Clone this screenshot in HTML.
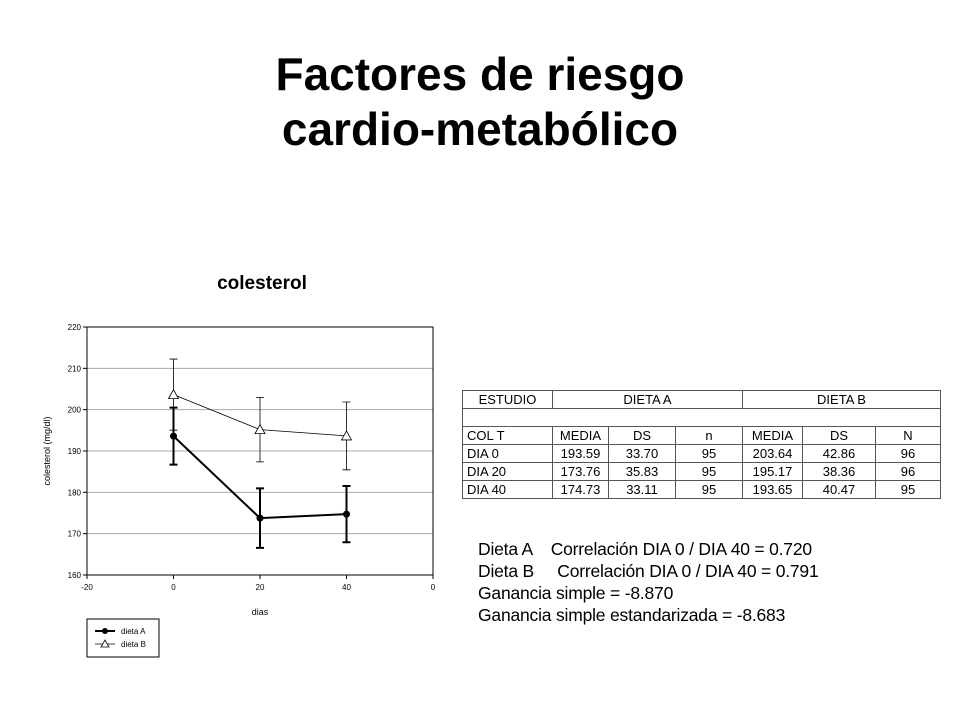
<!DOCTYPE html>
<html><head><meta charset="utf-8"><style>
body{margin:0;width:960px;height:720px;background:#fff;font-family:"Liberation Sans",Arial,sans-serif;position:relative;overflow:hidden}
.t{position:absolute;left:0;width:960px;text-align:center;font-weight:bold;font-size:46px;color:#000;line-height:52px}
table{position:absolute;left:462px;top:390px;border-collapse:collapse;font-size:13px;font-family:"Liberation Sans",sans-serif}
td{border:1px solid #555;height:17px;padding:0 4px;text-align:center;white-space:nowrap;line-height:17px}
td.l{text-align:left}
.txt{position:absolute;left:478px;top:538px;font-size:17.5px;line-height:22px;letter-spacing:-0.2px;white-space:pre}
</style></head><body>
<div class="t" style="top:48px">Factores de riesgo</div>
<div class="t" style="top:103px">cardio-metabólico</div>
<svg width="960" height="720" style="position:absolute;left:0;top:0" id="chart">
<text x="262" y="289" font-size="19" font-weight="bold" text-anchor="middle" font-family="Liberation Sans">colesterol</text>
</svg>
<table>
<colgroup><col style="width:90px"><col style="width:56px"><col style="width:67px"><col style="width:67px"><col style="width:60px"><col style="width:73px"><col style="width:65px"></colgroup>
<tr><td class="l" style="text-align:center">ESTUDIO</td><td colspan="3">DIETA A</td><td colspan="3">DIETA B</td></tr>
<tr><td colspan="7"></td></tr>
<tr><td class="l">COL T</td><td>MEDIA</td><td>DS</td><td>n</td><td>MEDIA</td><td>DS</td><td>N</td></tr>
<tr><td class="l">DIA 0</td><td>193.59</td><td>33.70</td><td>95</td><td>203.64</td><td>42.86</td><td>96</td></tr>
<tr><td class="l">DIA 20</td><td>173.76</td><td>35.83</td><td>95</td><td>195.17</td><td>38.36</td><td>96</td></tr>
<tr><td class="l">DIA 40</td><td>174.73</td><td>33.11</td><td>95</td><td>193.65</td><td>40.47</td><td>95</td></tr>
</table>
<div class="txt">Dieta A    Correlación DIA 0 / DIA 40 = 0.720
Dieta B     Correlación DIA 0 / DIA 40 = 0.791
Ganancia simple = -8.870
Ganancia simple estandarizada = -8.683</div>
<script>
const days=[0,20,40];
const meanA=[193.59,173.76,174.73];
const meanB=[203.64,195.17,193.65];
const errA=[6.9,7.2,6.8];
const errB=[8.6,7.8,8.2];
const yTicks=[160,170,180,190,200,210,220];
const xTicks=[-20,0,20,40,60];
const xTickLabels=["-20","0","20","40","0"];
const NS="http://www.w3.org/2000/svg";
const svg=document.getElementById('chart');
const X0=87,X1=433,Y0=575,Y1=327;
const sx=v=>X0+(v+20)/80*(X1-X0);
const sy=v=>Y0-(v-160)/60*(Y0-Y1);
function el(t,a,p){const e=document.createElementNS(NS,t);for(const k in a)e.setAttribute(k,a[k]);(p||svg).appendChild(e);return e;}
yTicks.forEach(v=>{
 if(v>160){const g=el('line',{x1:X0,x2:X1,y1:sy(v),y2:sy(v),stroke:'#aaa','stroke-width':1});
 
 }
 const tk=el('line',{x1:X0-4,x2:X0,y1:sy(v),y2:sy(v),stroke:'#000'});
 
 
 const t=el('text',{x:X0-6,y:sy(v)+3,'font-size':8,'text-anchor':'end','font-family':'Liberation Sans'});t.textContent=v;
 
 
});
const frame=el('rect',{x:X0,y:Y1,width:X1-X0,height:Y0-Y1,fill:'none',stroke:'#000'});


xTicks.forEach((v,i)=>{
 const tk=el('line',{x1:sx(v),x2:sx(v),y1:Y0,y2:Y0+4,stroke:'#000'});
 
 
 const t=el('text',{x:sx(v),y:Y0+15,'font-size':8,'text-anchor':'middle','font-family':'Liberation Sans'});t.textContent=xTickLabels[i];
 
 
});
const xt=el('text',{x:260,y:615,'font-size':9,'text-anchor':'middle','font-family':'Liberation Sans'});xt.textContent='dias';


const yt=el('text',{x:50,y:451,'font-size':9,'text-anchor':'middle','font-family':'Liberation Sans',transform:'rotate(-90 50 451)'});yt.textContent='colesterol (mg/dl)';


function series(mean,err,w,name,marker){
 const pts=days.map((d,i)=>sx(d)+','+sy(mean[i])).join(' ');
 const pl=el('polyline',{points:pts,fill:'none',stroke:'#000','stroke-width':w});
 
 
 days.forEach((d,i)=>{
  const x=sx(d),lo=sy(mean[i]-err[i]),hi=sy(mean[i]+err[i]);
  const g=el('path',{d:`M${x},${lo}V${hi}M${x-4},${lo}H${x+4}M${x-4},${hi}H${x+4}`,stroke:'#000','stroke-width':w,fill:'none'});
  
  
  let m;
  if(marker==='dot'){m=el('circle',{cx:x,cy:sy(mean[i]),r:3.5,fill:'#000'});}
  else{const y=sy(mean[i]);m=el('path',{d:`M${x},${y-5}L${x+5},${y+4}L${x-5},${y+4}Z`,fill:'#fff',stroke:'#000','stroke-width':0.8});}
  
  
 });
}
series(meanB,errB,0.8,'dieta-b','tri');
series(meanA,errA,2,'dieta-a','dot');
const lg=el('rect',{x:87,y:619,width:72,height:38,fill:'#fff',stroke:'#000'});


const la=el('path',{d:'M95,631H115',stroke:'#000','stroke-width':2});


const lad=el('circle',{cx:105,cy:631,r:3,fill:'#000'});


const lat=el('text',{x:121,y:634,'font-size':8,'font-family':'Liberation Sans'});lat.textContent='dieta A';


const lb=el('path',{d:'M95,644H115',stroke:'#000','stroke-width':0.8});


const lbm=el('path',{d:'M105,640L109,647L101,647Z',fill:'#fff',stroke:'#000','stroke-width':0.8});


const lbt=el('text',{x:121,y:647,'font-size':8,'font-family':'Liberation Sans'});lbt.textContent='dieta B';


</script>
</body></html>
